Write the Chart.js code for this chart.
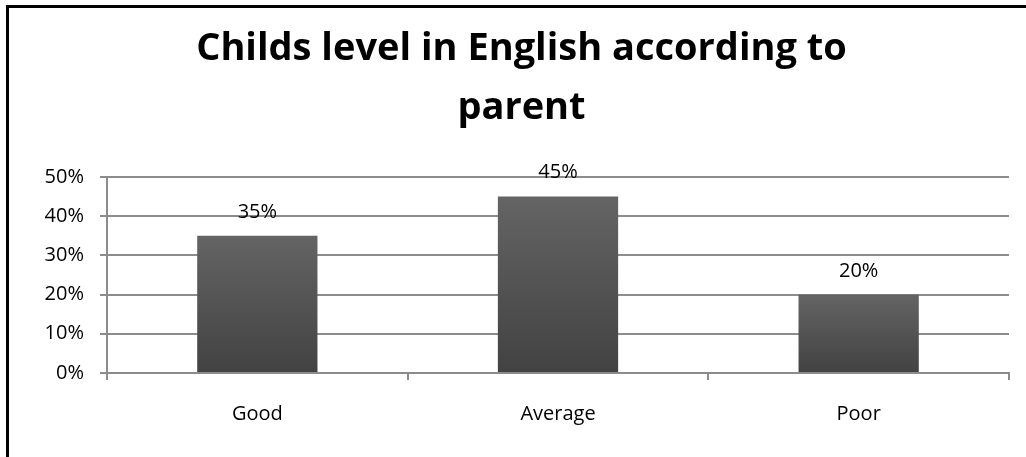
<!DOCTYPE html>
<html>
<head>
<meta charset="utf-8">
<script src="https://cdn.jsdelivr.net/npm/chart.js@4"></script>
<style>
  html, body { margin: 0; padding: 0; background: #fff; overflow: hidden; }
  #wrap { position: relative; width: 1026px; height: 457px; }
  #frame { position: absolute; left: 6px; top: 5px; width: 1100px; height: 500px;
           border-left: 3px solid #000; border-top: 3px solid #000; pointer-events: none; }
</style>
</head>
<body>
<div id="wrap">
  <canvas id="myChart" width="1026" height="457"></canvas>
  <div id="frame"></div>
</div>
<script>
const categories = ['Good', 'Average', 'Poor'];
const shares = [35, 45, 20];
const titleLines = ['Childs level in English according to', 'parent'];

// value labels above each bar
const barLabels = {
    id: 'barLabels',
    afterDatasetsDraw(chart) {
        const c = chart.ctx;
        const meta = chart.getDatasetMeta(0);
        c.save();
        c.font = '20px "Open Sans"';
        c.fillStyle = '#000';
        c.textAlign = 'center';
        c.textBaseline = 'alphabetic';
        meta.data.forEach((bar, i) => {
            c.fillText(shares[i] + '%', bar.x, bar.y - 18);
        });
        c.restore();
    }
};

const ctx = document.getElementById('myChart');
const myChart = new Chart(ctx, {
    type: 'bar',
    data: {
        labels: categories,
        datasets: [{
            label: 'Share',
            data: shares,
            backgroundColor: function(context) {
                const chart = context.chart;
                const y = chart.scales.y;
                if (!y || !context.parsed) return '#555';
                const top = y.getPixelForValue(context.parsed.y);
                const bottom = y.getPixelForValue(0);
                if (!isFinite(top) || !isFinite(bottom)) return '#555';
                const g = chart.ctx.createLinearGradient(0, top, 0, bottom);
                g.addColorStop(0, '#646464');
                g.addColorStop(1, '#424242');
                return g;
            },
            borderWidth: 0,
            categoryPercentage: 1,
            barPercentage: 0.4
        }]
    },
    options: {
        responsive: false,
        animation: false,
        layout: { padding: { left: 34, right: 17, top: 0, bottom: 0 } },
        plugins: {
            legend: { display: false },
            tooltip: { enabled: false },
            title: {
                display: true,
                text: titleLines,
                color: '#000',
                font: { family: 'Open Sans', size: 38, weight: 'bold', lineHeight: 1.55 },
                padding: { top: 20, bottom: 39 }
            }
        },
        scales: {
            y: {
                min: 0,
                max: 50,
                ticks: {
                    stepSize: 10,
                    color: '#000',
                    font: { family: 'Open Sans', size: 20 },
                    padding: 16,
                    callback: v => v + '%'
                },
                grid: { color: '#8c8c8c', lineWidth: 2, tickLength: 7 },
                border: { color: '#8c8c8c', width: 2 },
                afterFit: s => { s.width = 73; }
            },
            x: {
                ticks: {
                    color: '#000',
                    font: { family: 'Open Sans', size: 20 },
                    padding: 22
                },
                grid: { display: true, drawOnChartArea: false, offset: true, color: '#8c8c8c', lineWidth: 2, tickLength: 7 },
                border: { color: '#8c8c8c', width: 2 },
                afterFit: s => { s.height = 84; }
            }
        }
    },
    plugins: [barLabels]
});
</script>
</body>
</html>
